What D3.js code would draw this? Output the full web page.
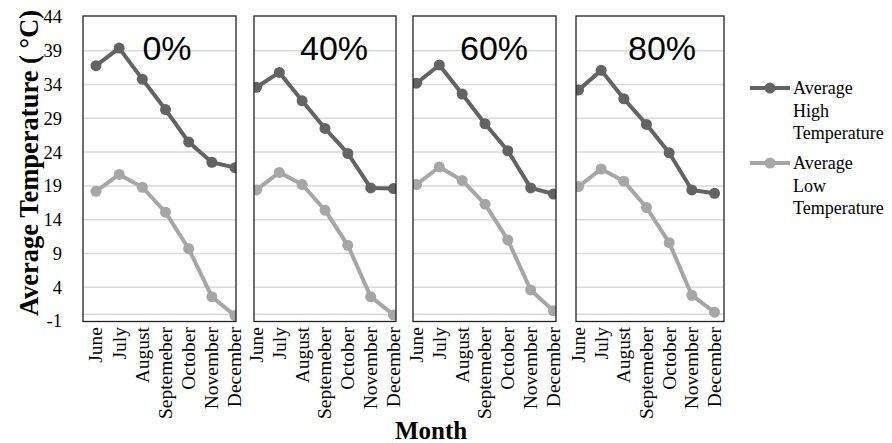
<!DOCTYPE html>
<style>
    body { margin: 0; background: #fff; }
    text { font-family: "Liberation Serif", "Times New Roman", serif; }
</style>
<svg width="892" height="443"></svg>

<script src="https://d3js.org/d3.v7.min.js"></script>
<script>
    var months = ["June", "July", "August", "Septemeber", "October", "November", "December"];
    var panelNames = ["0%", "40%", "60%", "80%"];
    var seriesNames = ["Average High Temperature", "Average Low Temperature"];
    var yTicks = [-1, 4, 9, 14, 19, 24, 29, 34, 39, 44];

    var high0 = [36.8, 39.4, 34.8, 30.3, 25.5, 22.5, 21.7];
    var low0 = [18.2, 20.7, 18.8, 15.1, 9.7, 2.6, -0.2];
    var high40 = [33.6, 35.8, 31.6, 27.5, 23.8, 18.7, 18.6];
    var low40 = [18.4, 21.0, 19.2, 15.4, 10.2, 2.6, -0.1];
    var high60 = [34.2, 36.9, 32.6, 28.2, 24.2, 18.7, 17.8];
    var low60 = [19.2, 21.8, 19.8, 16.3, 11.0, 3.6, 0.5];
    var high80 = [33.2, 36.1, 31.9, 28.1, 23.9, 18.4, 17.9];
    var low80 = [18.9, 21.5, 19.7, 15.8, 10.6, 2.8, 0.3];

    var highs = [high0, high40, high60, high80],
        lows = [low0, low40, low60, low80];

    var colors = ["#636363", "#a6a6a6"];

    // box left/right and first/last point position of each panel
    var boxes = [
        {x0: 83, x1: 236, p0: 96, p1: 235},
        {x0: 254, x1: 396, p0: 256.5, p1: 393.5},
        {x0: 413, x1: 556, p0: 416.5, p1: 553.5},
        {x0: 576, x1: 724, p0: 578.5, p1: 714.5}
    ];
    var plotTop = 16, plotBottom = 321.5;

    var svg = d3.select("svg");

    var y = d3.scaleLinear().domain([-1, 44]).range([321, 17]);

    // y tick labels
    svg.append("g")
        .attr("font-size", 18.5)
        .attr("text-anchor", "end")
        .selectAll("text")
        .data(yTicks)
        .enter().append("text")
        .attr("x", 62)
        .attr("y", function (d) { return y(d); })
        .attr("dy", "0.35em")
        .text(function (d) { return d; });

    svg.append("text")
        .attr("transform", "translate(29,163) rotate(-90)")
        .attr("text-anchor", "middle")
        .attr("dy", "0.35em")
        .attr("font-size", 26.5)
        .attr("font-weight", "bold")
        .text("Average Temperature ( °C)");

    var line = d3.line()
        .x(function (d) { return d.x; })
        .y(function (d) { return y(d.v); });

    boxes.forEach(function (b, i) {
        var x = d3.scalePoint().domain(months).range([b.p0, b.p1]);
        var g = svg.append("g");

        g.append("clipPath")
            .attr("id", "clip" + i)
            .append("rect")
            .attr("x", b.x0).attr("y", plotTop)
            .attr("width", b.x1 - b.x0).attr("height", plotBottom - plotTop);

        var inner = g.append("g").attr("clip-path", "url(#clip" + i + ")");

        inner.selectAll("line.grid")
            .data(yTicks.slice(1, -1))
            .enter().append("line")
            .attr("x1", b.x0).attr("x2", b.x1)
            .attr("y1", function (d) { return y(d); })
            .attr("y2", function (d) { return y(d); })
            .attr("stroke", "#d9d9d9")
            .attr("stroke-width", 1.5);

        // category axis crossing at zero
        inner.append("line")
            .attr("x1", b.x0).attr("x2", b.x1)
            .attr("y1", y(0)).attr("y2", y(0))
            .attr("stroke", "#d9d9d9")
            .attr("stroke-width", 1.5);

        [highs[i], lows[i]].forEach(function (vals, s) {
            var pts = vals.map(function (v, k) { return {x: x(months[k]), v: v}; });
            inner.append("path")
                .datum(pts)
                .attr("d", line)
                .attr("fill", "none")
                .attr("stroke", colors[s])
                .attr("stroke-width", 4)
                .attr("stroke-linejoin", "round");
            inner.selectAll("circle.s" + s)
                .data(pts)
                .enter().append("circle")
                .attr("class", "s" + s)
                .attr("cx", function (d) { return d.x; })
                .attr("cy", function (d) { return y(d.v); })
                .attr("r", 5.5)
                .attr("fill", colors[s]);
        });

        g.append("rect")
            .attr("x", b.x0).attr("y", plotTop)
            .attr("width", b.x1 - b.x0).attr("height", plotBottom - plotTop)
            .attr("fill", "none")
            .attr("stroke", "#222")
            .attr("stroke-width", 1.3);

        g.append("text")
            .attr("x", i == 0 ? 167 : b.x1 - 62)
            .attr("y", 60)
            .attr("text-anchor", "middle")
            .attr("font-size", 34)
            .style("font-family", "'Liberation Sans', Arial, sans-serif")
            .text(panelNames[i]);

        g.selectAll("text.month")
            .data(months)
            .enter().append("text")
            .attr("class", "month")
            .attr("transform", function (d) {
                return "translate(" + x(d) + ",327) rotate(-90)";
            })
            .attr("text-anchor", "end")
            .attr("dy", "0.33em")
            .attr("font-size", 19.5)
            .text(function (d) { return d; });
    });

    svg.append("text")
        .attr("x", 431)
        .attr("y", 439)
        .attr("text-anchor", "middle")
        .attr("font-size", 25)
        .attr("font-weight", "bold")
        .text("Month");

    // legend
    var legend = svg.append("g")
        .selectAll("g")
        .data(seriesNames)
        .enter().append("g")
        .attr("transform", function (d, i) { return "translate(750," + (88 + i * 75) + ")"; });

    legend.append("line")
        .attr("x1", 0).attr("x2", 40)
        .attr("stroke", function (d, i) { return colors[i]; })
        .attr("stroke-width", 4);

    legend.append("circle")
        .attr("cx", 20)
        .attr("r", 5.5)
        .attr("fill", function (d, i) { return colors[i]; });

    legend.append("text")
        .attr("x", 43)
        .attr("font-size", 18)
        .selectAll("tspan")
        .data(function (d) {
            var w = d.split(" ");
            return [w[0], w[1], w[2]];
        })
        .enter().append("tspan")
        .attr("x", 43)
        .attr("y", function (d, k) { return k * 22.5; })
        .attr("dy", "0.35em")
        .text(function (d) { return d; });
</script>
